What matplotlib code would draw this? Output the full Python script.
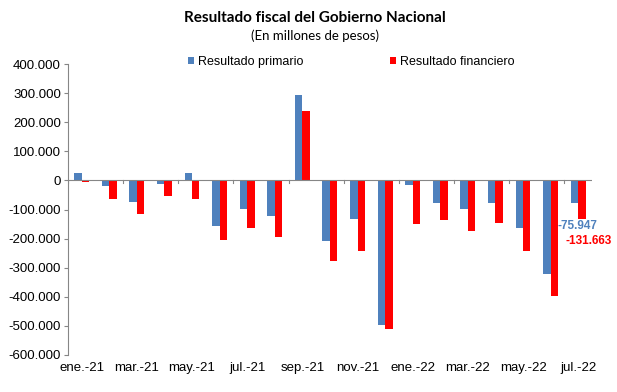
import matplotlib
matplotlib.use("Agg")
import matplotlib.pyplot as plt
import numpy as np
from matplotlib.ticker import FuncFormatter

meses = ["ene.-21", "feb.-21", "mar.-21", "abr.-21", "may.-21", "jun.-21", "jul.-21",
         "ago.-21", "sep.-21", "oct.-21", "nov.-21", "dic.-21", "ene.-22", "feb.-22",
         "mar.-22", "abr.-22", "may.-22", "jun.-22", "jul.-22"]
primario = [24000, -18000, -74000, -11000, 27000, -155000, -98000, -124000, 292000,
            -208000, -133000, -497000, -16000, -77000, -98000, -79000, -163000,
            -321000, -75947]
financiero = [-5000, -65000, -117000, -55000, -65000, -206000, -164000, -193000, 237000,
              -276000, -242000, -511000, -149000, -136000, -173000, -148000, -244000,
              -398000, -131663]

azul = "#4F81BD"
rojo = "#FF0000"
gris = "#868686"

plt.rcParams['font.family'] = ['Liberation Sans', 'DejaVu Sans']

fig = plt.figure(figsize=(6.17, 3.92), dpi=100)
ax = fig.add_axes([0.110, 0.0944, 0.8495, 0.7423])

x = np.arange(len(meses))
w = 0.27
ax.bar(x - w / 2, primario, w, color=azul, label="Resultado primario")
ax.bar(x + w / 2, financiero, w, color=rojo, label="Resultado financiero")

ax.set_xlim(-0.5, len(meses) - 0.5)
ax.set_ylim(-600000, 400000)
ax.set_yticks(np.arange(-600000, 400001, 100000))
ax.yaxis.set_major_formatter(FuncFormatter(lambda v, p: f"{int(v):,}".replace(",", ".")))
ax.tick_params(axis='y', labelsize=9.5, length=3, color=gris, pad=2)

# eje horizontal en cero con marcas cada dos meses, etiquetas abajo
ax.axhline(0, color=gris, lw=0.8)
for b in np.arange(-0.5, len(meses), 2):
    ax.plot([b, b], [0, -9000], color=gris, lw=0.8)
ax.set_xticks(x[::2])
ax.set_xticklabels(meses[::2])
ax.tick_params(axis='x', length=0, labelsize=9.5, pad=5)

for s in ["top", "right", "bottom"]:
    ax.spines[s].set_visible(False)
ax.spines["left"].set_color(gris)
ax.spines["left"].set_linewidth(0.8)

ax.annotate("-75.947", (x[-1] - w / 2, primario[-1]), xytext=(2, -17),
            textcoords="offset points", ha="center", va="center",
            color=azul, fontsize=8.5, fontweight="bold")
ax.annotate("-131.663", (x[-1] + w / 2, financiero[-1]), xytext=(5, -16),
            textcoords="offset points", ha="center", va="center",
            color=rojo, fontsize=8.5, fontweight="bold")

fig.text(0.51, 0.955, "Resultado fiscal del Gobierno Nacional", ha="center", va="center",
         fontsize=11, fontweight="bold", family="Lato")
fig.text(0.51, 0.91, "(En millones de pesos)", ha="center", va="center",
         fontsize=9.5, family="Lato")

fig.legend(loc="center left", bbox_to_anchor=(0.304, 0.843), ncol=2, frameon=False,
           fontsize=9, handlelength=0.5, handleheight=0.5, handletextpad=0.35,
           columnspacing=6.9, borderpad=0, borderaxespad=0)

fig.savefig("out.png", dpi=100)
